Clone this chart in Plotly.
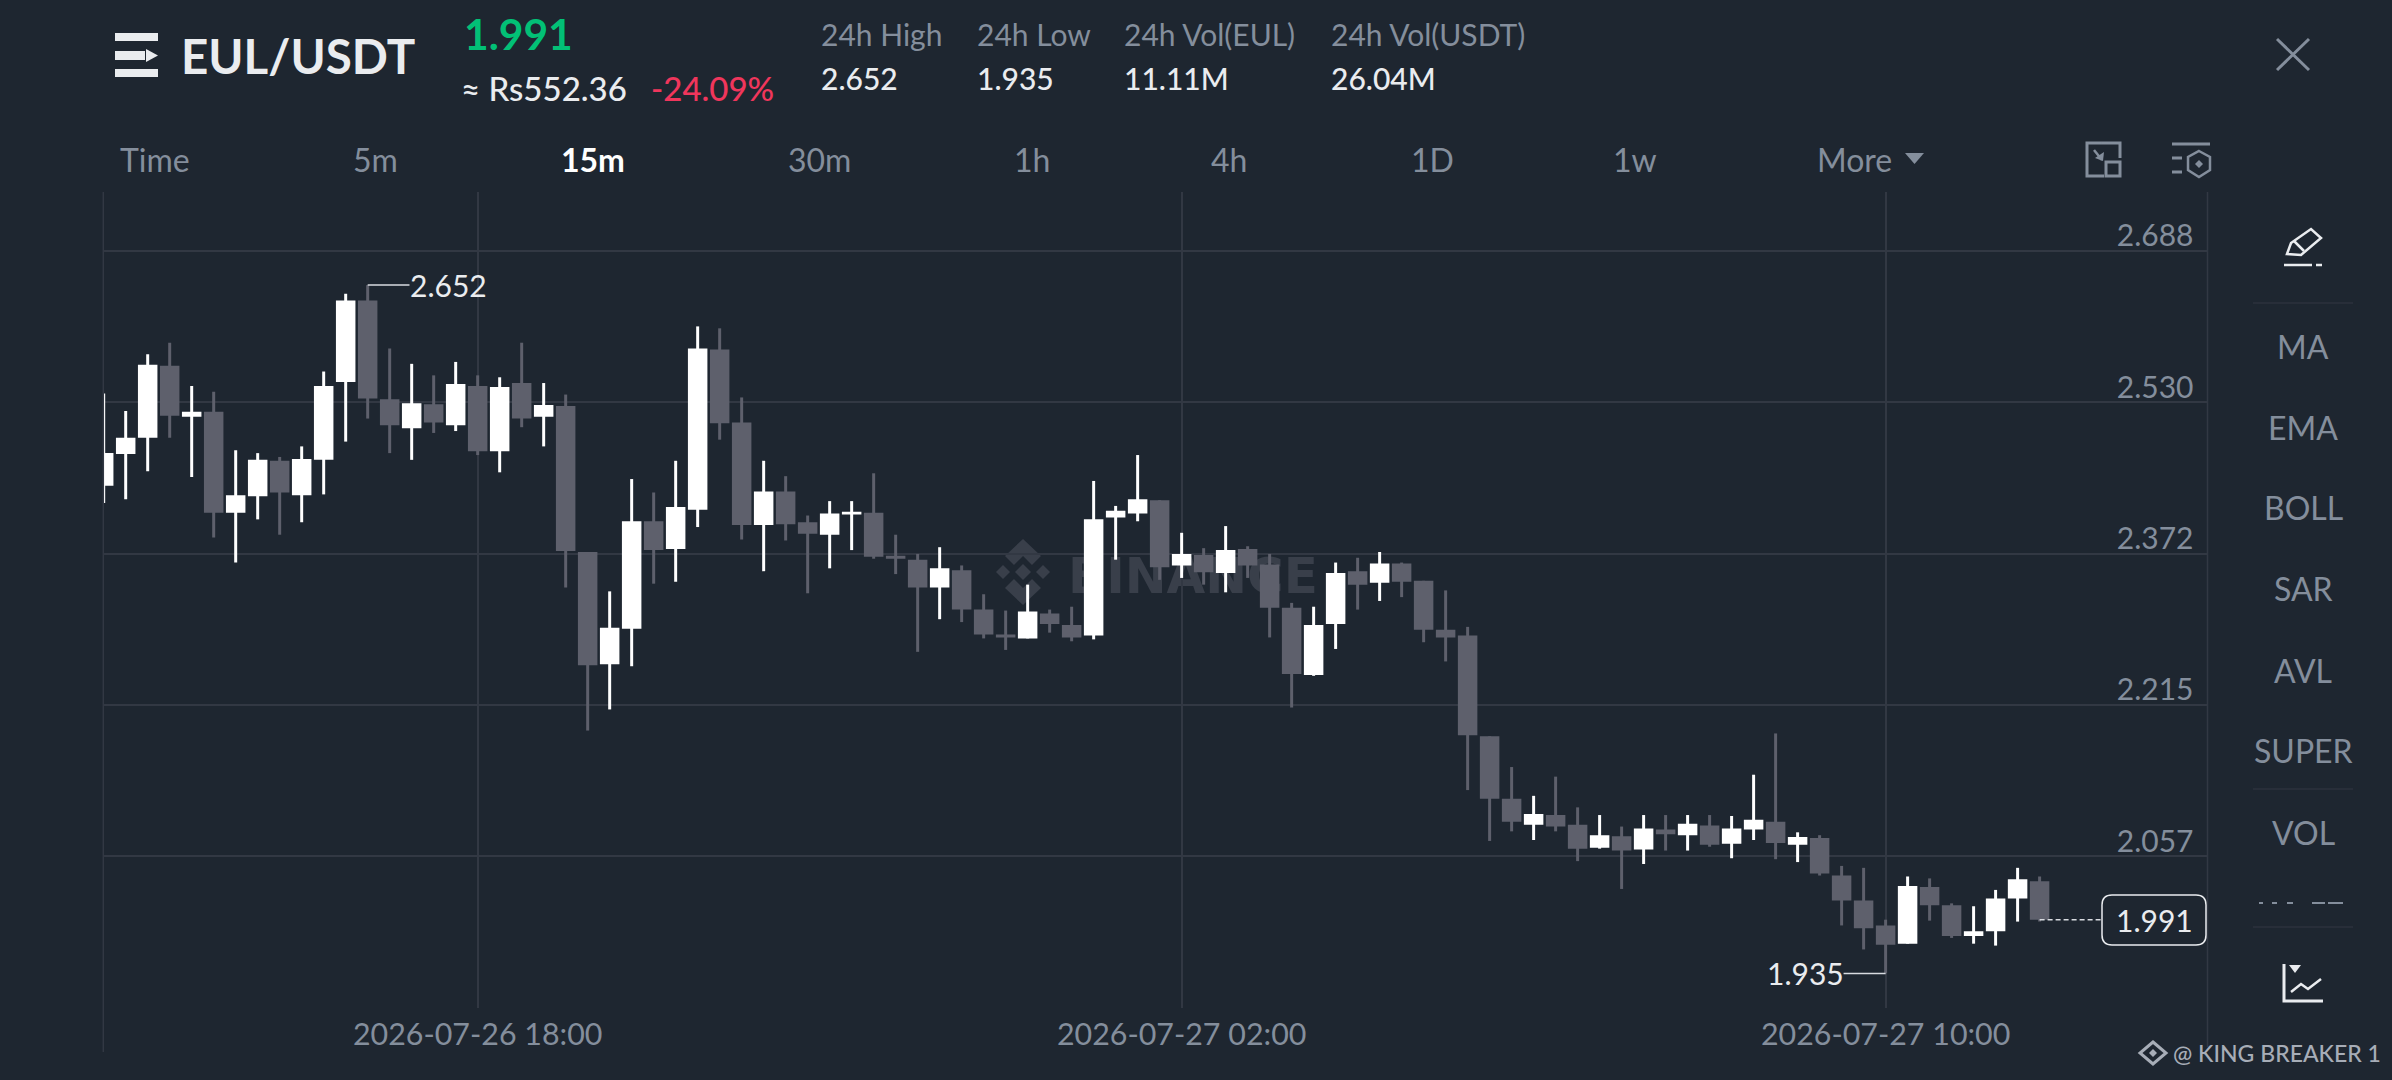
import pandas as pd
import plotly.graph_objects as go

W, H = 2392, 1080
BG = "#1e2630"
GRID = "#323843"
GRAY = "#848e9c"
LIGHT = "#eaecef"
UP = "#ffffff"
DOWN = "#5e606c"
FONT = "Lato"

start_time = "2026-07-26 13:45"
candle_count = 89

opens = [2.443,2.476,2.493,2.568,2.515,2.520,2.415,2.432,2.469,2.433,2.470,2.551,2.636,2.533,2.503,2.528,2.506,2.547,2.479,2.550,2.515,2.526,
         2.374,2.257,2.294,2.406,2.377,2.418,2.585,2.509,2.402,2.437,2.405,2.392,2.413,2.415,2.370,2.366,2.337,2.355,2.314,2.288,2.284,2.310,
         2.298,2.287,2.410,2.414,2.428,2.360,2.371,2.352,2.377,2.361,2.316,2.246,2.299,2.354,2.342,2.362,2.344,2.293,2.287,2.182,2.117,2.090,
         2.100,2.090,2.066,2.078,2.064,2.085,2.079,2.089,2.070,2.085,2.093,2.069,2.076,2.037,2.011,1.985,1.966,2.025,2.006,1.974,1.979,2.013,2.031]
highs = [2.539,2.521,2.580,2.592,2.547,2.541,2.480,2.477,2.473,2.484,2.562,2.643,2.652,2.586,2.570,2.558,2.572,2.558,2.556,2.592,2.550,2.538,
         2.374,2.333,2.450,2.436,2.469,2.609,2.607,2.535,2.469,2.453,2.412,2.427,2.427,2.456,2.392,2.372,2.379,2.360,2.330,2.313,2.340,2.314,
         2.317,2.448,2.422,2.475,2.428,2.394,2.378,2.401,2.380,2.372,2.321,2.317,2.363,2.368,2.374,2.363,2.344,2.334,2.296,2.182,2.150,2.120,
         2.140,2.108,2.100,2.088,2.100,2.100,2.100,2.100,2.099,2.142,2.185,2.082,2.079,2.047,2.045,1.991,2.036,2.034,2.008,2.005,2.022,2.045,2.036]
lows = [2.425,2.429,2.458,2.493,2.452,2.389,2.363,2.408,2.392,2.405,2.434,2.489,2.513,2.477,2.470,2.498,2.500,2.475,2.457,2.504,2.484,2.337,
        2.188,2.210,2.255,2.341,2.343,2.400,2.491,2.387,2.354,2.386,2.331,2.357,2.376,2.367,2.351,2.270,2.304,2.301,2.284,2.272,2.284,2.290,
        2.281,2.283,2.366,2.406,2.345,2.347,2.340,2.332,2.347,2.285,2.212,2.245,2.273,2.314,2.323,2.327,2.280,2.260,2.126,2.073,2.083,2.074,
        2.083,2.052,2.065,2.023,2.049,2.063,2.063,2.067,2.055,2.074,2.054,2.051,2.037,1.985,1.960,1.935,1.966,1.990,1.972,1.966,1.964,1.989,1.989]
closes = [2.477,2.493,2.569,2.516,2.520,2.415,2.433,2.470,2.436,2.471,2.547,2.636,2.534,2.506,2.529,2.509,2.549,2.479,2.546,2.513,2.527,2.375,
          2.256,2.295,2.406,2.376,2.421,2.586,2.508,2.402,2.437,2.403,2.393,2.414,2.416,2.369,2.367,2.337,2.357,2.314,2.288,2.285,2.312,2.299,
          2.285,2.408,2.417,2.429,2.358,2.372,2.353,2.376,2.360,2.316,2.247,2.298,2.352,2.340,2.362,2.343,2.293,2.285,2.183,2.117,2.093,2.101,
          2.088,2.065,2.079,2.063,2.086,2.080,2.091,2.069,2.086,2.095,2.071,2.077,2.039,2.011,1.982,1.965,2.026,2.006,1.974,1.979,2.013,2.033,1.991]

price_ticks = [1.899, 2.057, 2.215, 2.372, 2.530, 2.688]
price_labels = ["1.899", "2.057", "2.215", "2.372", "2.530", "2.688"]
time_ticks = ["2026-07-26 18:00", "2026-07-27 02:00", "2026-07-27 10:00"]
time_labels = ["2026-07-26 18:00", "2026-07-27 02:00", "2026-07-27 10:00"]
last_price = 1.991
high_point = ("2026-07-26 16:45", 2.652, "2.652", "2026-07-26 17:13:30")
low_point = ("2026-07-27 10:00", 1.935, "1.935", "2026-07-27 09:31:20")

header_labels = ["24h High", "24h Low", "24h Vol(EUL)", "24h Vol(USDT)"]
header_values = ["2.652", "1.935", "11.11M", "26.04M"]
header_x = [820, 976, 1123, 1330]
intervals = ["Time", "5m", "15m", "30m", "1h", "4h", "1D", "1w"]
interval_x = [155, 375, 593, 819, 1032, 1229, 1432, 1635]
indicators = ["MA", "EMA", "BOLL", "SAR", "AVL", "SUPER", "VOL"]
indicator_y = [346, 427, 507, 588, 670, 750, 832]

times = pd.date_range(start_time, periods=candle_count, freq="15min")
time_text = [t.strftime("%Y-%m-%d %H:%M") for t in times]
wick_colors = [UP if c >= o else DOWN for o, c in zip(opens, closes)]

fig = go.Figure()
fig.add_trace(go.Bar(
    x=time_text, base=lows, y=[h - l for h, l in zip(highs, lows)],
    width=122000, marker=dict(color=wick_colors, line=dict(width=0)),
    showlegend=False, hoverinfo="skip"))
fig.add_trace(go.Candlestick(
    x=time_text, open=opens, high=highs, low=lows, close=closes,
    increasing=dict(fillcolor=UP, line=dict(color=UP, width=0)),
    decreasing=dict(fillcolor=DOWN, line=dict(color=DOWN, width=0)),
    whiskerwidth=0, showlegend=False, hoverinfo="skip"))
fig.add_trace(go.Scatter(
    x=[time_text[-1], "2026-07-27 12:40"], y=[last_price, last_price], mode="lines",
    line=dict(color="#d8dbe0", width=1.5, dash="5px,3px"), showlegend=False, hoverinfo="skip"))
for t, p, _, end in (high_point, low_point):
    fig.add_trace(go.Scatter(x=[t, end], y=[p, p], mode="lines", line=dict(color="#d8dbe0", width=1.5),
                             showlegend=False, hoverinfo="skip"))


def px(x):
    return x / W


def py(y):
    return 1 - y / H


def txt(x, y, s, size, color=GRAY, anchor="left", weight=400):
    fig.add_annotation(xref="paper", yref="paper", x=px(x), y=py(y), text=s, showarrow=False,
                       xanchor=anchor, yanchor="middle", borderpad=0,
                       font=dict(family=FONT, size=size, color=color, weight=weight))


def poly(points, fill=None, line=None, width=2.5, close=True, layer="above"):
    d = "M " + " L ".join(f"{px(a):.5f} {py(b):.5f}" for a, b in points) + (" Z" if close else "")
    fig.add_shape(type="path", path=d, xref="paper", yref="paper", layer=layer,
                  fillcolor=fill if fill else "rgba(0,0,0,0)",
                  line=dict(color=line if line else "rgba(0,0,0,0)", width=width if line else 0))


def seg(x0, y0, x1, y1, color=GRAY, width=2.5):
    fig.add_shape(type="line", xref="paper", yref="paper", x0=px(x0), y0=py(y0), x1=px(x1), y1=py(y1),
                  line=dict(color=color, width=width))


def rect(x0, y0, x1, y1, fill=None, line=None, width=2.5):
    fig.add_shape(type="rect", xref="paper", yref="paper", x0=px(x0), y0=py(y0), x1=px(x1), y1=py(y1),
                  fillcolor=fill if fill else "rgba(0,0,0,0)",
                  line=dict(color=line if line else "rgba(0,0,0,0)", width=width if line else 0))


# header
rect(115, 33, 158, 41, fill=LIGHT)
rect(115, 51, 145, 60, fill=LIGHT)
poly([(146, 49), (158, 55.5), (146, 62)], fill=LIGHT)
rect(115, 69, 158, 77, fill=LIGHT)
txt(180, 55, "EUL/USDT", 47.5, LIGHT, weight=700)
txt(463, 34, "1.991", 42.5, "#02c076", weight=700)
txt(460, 88, "≈ Rs552.36", 33, LIGHT, weight=500)
txt(650, 88, "-24.09%", 33, "#f0365c", weight=500)
for x, a, b in zip(header_x, header_labels, header_values):
    txt(x, 33.5, a, 30, GRAY)
    txt(x, 78, b, 30, LIGHT, weight=500)
seg(2277, 39, 2309, 70, GRAY, 3)
seg(2309, 39, 2277, 70, GRAY, 3)

# interval row
for x, s in zip(interval_x, intervals):
    active = s == "15m"
    txt(x, 159, s, 32, "#ffffff" if active else GRAY, anchor="center", weight=700 if active else 400)
txt(1816, 159, "More", 32, GRAY)
poly([(1905, 153), (1924, 153), (1914.5, 164)], fill=GRAY)
poly([(2102, 143), (2087, 143), (2087, 176), (2104, 176)], line=GRAY, width=3, close=False)
poly([(2102, 143), (2120, 143), (2120, 158)], line=GRAY, width=3, close=False)
rect(2106, 162, 2120, 176, line=GRAY, width=3)
seg(2094, 150, 2102, 160, GRAY, 2.5)
poly([(2095, 158), (2103, 161), (2104, 152)], fill=GRAY)
seg(2172, 144, 2210, 144, GRAY, 3)
seg(2172, 158, 2182, 158, GRAY, 3)
seg(2172, 172, 2182, 172, GRAY, 3)
poly([(2199, 151), (2210, 157), (2210, 170), (2199, 177), (2188, 170), (2188, 157)], line=GRAY, width=2.5)
poly([(2199, 160), (2203, 164), (2199, 168), (2195, 164)], fill=GRAY)

# side panel
poly([(2287, 254), (2291, 243), (2311, 229), (2321, 238), (2301, 255)], line=LIGHT, width=2.5)
seg(2294, 241, 2304, 251, LIGHT, 2.5)
seg(2284, 265, 2312, 265, LIGHT, 2.5)
seg(2316, 265, 2322, 265, LIGHT, 2.5)
for y in (303, 789, 927):
    seg(2253, y, 2353, y, "#2c323d", 1.5)
for s, y in zip(indicators, indicator_y):
    txt(2303, y, s, 32, GRAY, anchor="center")
for a, b in ((2259, 2263), (2272, 2277), (2287, 2293), (2312, 2325), (2328, 2343)):
    seg(a, 903, b, 903, GRAY, 2)
poly([(2284, 964), (2284, 1001), (2323, 1001)], line=LIGHT, width=3, close=False)
poly([(2291, 992), (2301, 984), (2308, 989), (2321, 979)], line=LIGHT, width=2.5, close=False)
poly([(2289, 965), (2301, 965), (2295, 973)], fill=LIGHT)

# frame lines outside the plot
seg(103.3, 192, 103.3, 1052, GRID, 1.5)
seg(2207.5, 192, 2207.5, 1047, GRID, 1.5)

# current price tag
fig.add_shape(type="path", xref="paper", yref="paper", line=dict(color="#eaecef", width=1.5), fillcolor=BG,
              path=f"M {px(2112)} {py(895)} L {px(2196)} {py(895)} Q {px(2206)} {py(895)} {px(2206)} {py(905)} "
                   f"L {px(2206)} {py(935)} Q {px(2206)} {py(945)} {px(2196)} {py(945)} L {px(2112)} {py(945)} "
                   f"Q {px(2102)} {py(945)} {px(2102)} {py(935)} L {px(2102)} {py(905)} Q {px(2102)} {py(895)} {px(2112)} {py(895)} Z")
txt(2154, 920, "1.991", 30, LIGHT, anchor="center")

# watermarks
for pts in ([(1023, 539), (1041, 556), (1032, 565), (1023, 556), (1014, 565), (1005, 556)],
            [(1023, 605), (1041, 588), (1032, 579), (1023, 588), (1014, 579), (1005, 588)],
            [(1023, 564), (1031, 572), (1023, 580), (1015, 572)],
            [(1003, 565), (1010, 572), (1003, 579), (996, 572)],
            [(1043, 565), (1050, 572), (1043, 579), (1036, 572)]):
    poly(pts, fill="#393f4a", layer="below")
fig.add_shape(type="rect", xref="paper", yref="paper", x0=px(1068), x1=px(1318), y0=py(595), y1=py(548), layer="below",
              line=dict(width=0), fillcolor="rgba(0,0,0,0)",
              label=dict(text="BINANCE", textposition="middle center",
                         font=dict(family="DejaVu Sans", size=50, color="#393f4a", weight=700)))
poly([(2153, 1042), (2166, 1053), (2153, 1064), (2140, 1053)], line="#a7adb7", width=3)
poly([(2153, 1049), (2157, 1053), (2153, 1057), (2149, 1053)], fill="#a7adb7")
txt(2172, 1053, "@ KING BREAKER 1", 23, "#a7adb7", weight=500)

# extreme labels
fig.add_annotation(x=high_point[3], y=high_point[1], text=high_point[2], showarrow=False, xanchor="left",
                   yanchor="middle", xshift=-1, font=dict(family=FONT, size=30, color=LIGHT))
fig.add_annotation(x=low_point[3], y=low_point[1], text=low_point[2], showarrow=False, xanchor="right",
                   yanchor="middle", xshift=2, font=dict(family=FONT, size=30, color=LIGHT))

fig.update_layout(
    width=W, height=H, margin=dict(l=0, r=0, t=0, b=0, pad=0, autoexpand=False),
    paper_bgcolor=BG, plot_bgcolor=BG, showlegend=False, hovermode=False, barmode="overlay",
    boxmode="overlay", boxgap=0.114, boxgroupgap=0, font=dict(family=FONT),
    xaxis=dict(domain=[103.3 / W, 2207.5 / W], type="date", rangeslider=dict(visible=False),
               range=["2026-07-26 13:44:44", "2026-07-27 13:39:29"],
               tickmode="array", tickvals=time_ticks, ticktext=time_labels,
               showgrid=True, gridcolor=GRID, gridwidth=1.5, zeroline=False, showline=False, ticks="",
               ticklabelstandoff=6, tickfont=dict(family=FONT, size=30.4, color=GRAY)),
    yaxis=dict(domain=[1 - 1008 / H, 1 - 192 / H], range=[1.899, 2.749], side="right",
               tickmode="array", tickvals=price_ticks, ticktext=price_labels,
               showgrid=True, gridcolor=GRID, gridwidth=1.5, zeroline=False, showline=False, ticks="",
               ticklabelposition="inside top", ticklabelstandoff=11, ticklabelshift=6,
               tickfont=dict(family=FONT, size=30, color=GRAY)),
)

fig.write_html("out.html", config={"displayModeBar": False, "responsive": False},
               post_script="document.body.style.margin='0';document.body.style.background='%s';" % BG)
